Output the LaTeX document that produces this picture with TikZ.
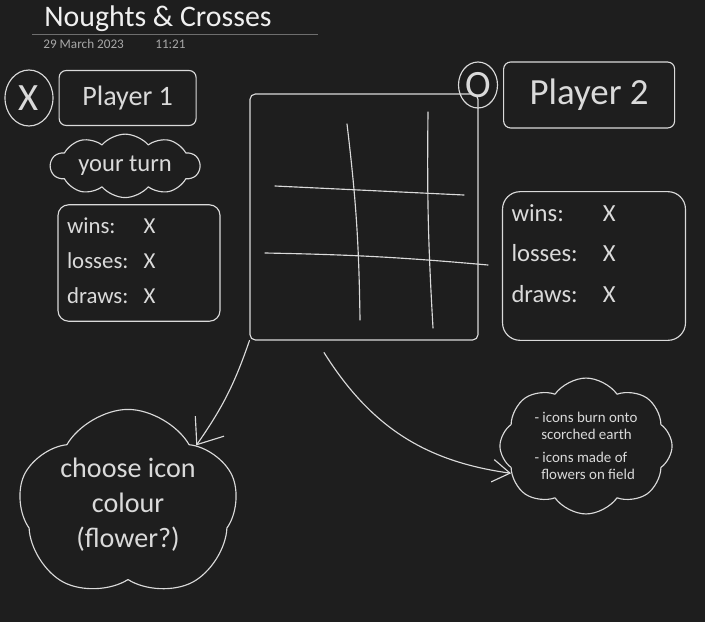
\documentclass[tikz,border=0pt]{standalone}
\usepackage{fontspec}
\setmainfont{Carlito}
\usepackage{xcolor}
\usepackage{tikz}
\usetikzlibrary{arrows.meta, positioning, shapes.geometric, shapes.symbols}

\definecolor{pagebg}{HTML}{1E1E1E}
\definecolor{ink}{HTML}{DADADA}
\definecolor{datetext}{HTML}{A8A8A8}
\definecolor{rulegrey}{HTML}{6E6E6E}

\begin{document}
\begin{tikzpicture}[
    x=0.02cm, y=-0.02cm,
    every node/.style={text=ink},
    pen/.style={draw=ink, line width=0.65pt, line cap=round, line join=round},
    hand/.style 2 args={font=\fontsize{#1}{#2}\selectfont},
    symring/.style={ellipse, pen, inner sep=0pt},
    namebox/.style={rectangle, pen, rounded corners=4pt, align=center},
    statbox/.style={rectangle, pen, rounded corners=6pt, align=left,
        hand={13}{16}, inner sep=0.18cm},
    blob/.style={cloud, cloud ignores aspect, pen, align=center},
    flow/.style={pen, -{Straight Barb[length=4.5mm, width=7mm]}},
]

\fill[pagebg] (0,0) rectangle (705,622);
\useasboundingbox (0,0) rectangle (705,622);

% page heading
\node[anchor=base west, inner sep=0pt, text=white!94!black, hand={17}{20}]
    (title) at (44,26) {Noughts \& Crosses};
\draw[rulegrey, line width=0.5pt] (32,34) -- (318,34);
\node[anchor=base west, inner sep=0pt, text=datetext, hand={7.5}{9}]
    (date) at (43,48) {29 March 2023};
\node[anchor=base west, inner sep=0pt, text=datetext, hand={7.5}{9}]
    (time) at (155,48) {11:21};

% player 1 column
\node[symring, minimum width=0.96cm, minimum height=1.12cm, hand={22}{26}]
    (xmark) at (29,98) {X};
\node[namebox, right=0.1cm of xmark, minimum width=2.74cm,
    minimum height=1.1cm, hand={16}{19}] (pone) {Player 1};
\node[blob, cloud puffs=10, cloud puff arc=100, below=0.15cm of pone,
    xshift=-0.05cm, minimum width=2.98cm, minimum height=1.24cm,
    hand={14}{17}] (turn) {your turn};
\node[statbox, minimum width=3.24cm, minimum height=2.3cm,
    text width=2.88cm] (statsone) at (139,263)
    {\begin{tabular}{@{}l@{\hspace{0.3cm}}l@{}}
     wins: & X\\[4pt] losses: & X\\[4pt] draws: & X
     \end{tabular}};

% the board
\node[rectangle, pen, rounded corners=3pt, minimum width=4.56cm,
    minimum height=4.92cm] (board) at (364,217) {};
\draw[pen] (347,124) to[bend left=3] (360,320);
\draw[pen] (428,112) to[bend right=2] (433,328);
\draw[pen] (275,186) -- (464,195);
\draw[pen] (265,253) to[bend left=2] (488,265);

% player 2 column
\node[symring, minimum width=0.78cm, minimum height=0.92cm, hand={22}{26}]
    (omark) at (478,85) {O};
\node[namebox, right=0.1cm of omark, yshift=-0.2cm, minimum width=3.42cm,
    minimum height=1.32cm, hand={21}{25}] (ptwo) {Player 2};
\node[statbox, rounded corners=10pt, minimum width=3.66cm,
    minimum height=2.64cm, text width=3.3cm, hand={14}{17}] (statstwo)
    at (594,266)
    {\begin{tabular}{@{}l@{\hspace{0.5cm}}l@{}}
     wins: & X\\[6pt] losses: & X\\[6pt] draws: & X\\[0.4cm]
     \end{tabular}};

% notes under the board
\node[blob, cloud puffs=5, cloud puff arc=120, minimum width=4.14cm,
    minimum height=3.4cm, hand={16}{20}] (colour) at (128,505)
    {choose icon\\colour\\(flower?)};
\node[blob, cloud puffs=8, cloud puff arc=110, minimum width=3.44cm,
    minimum height=2.48cm, align=left, hand={8.5}{9.5}]
    (ideas) at (586,446)
    {- icons burn onto\\\ \ scorched earth\\[4pt]
     - icons made of\\\ \ flowers on field};

\draw[flow] (board.south west) to[bend left=8] (colour.north east);
\draw[flow, -{Straight Barb[length=3.5mm, width=4.5mm]}]
    ([xshift=-0.8cm, yshift=-0.24cm]board.south)
    to[bend right=25] (ideas.200);

\end{tikzpicture}
\end{document}
